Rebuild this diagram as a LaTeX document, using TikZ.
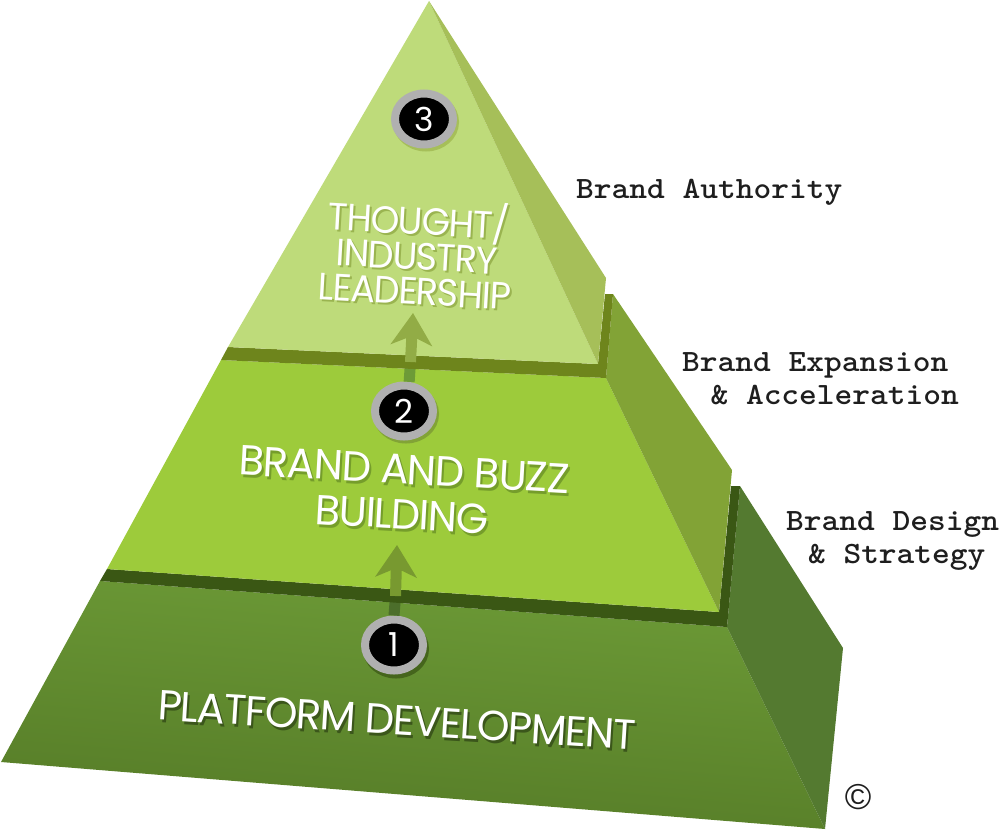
\documentclass[tikz,border=0pt]{standalone}
\usepackage{fontspec}
\newfontfamily\tierfont[LetterSpace=-3]{Poppins}
\newfontfamily\markfont{Liberation Sans}
\usetikzlibrary{arrows.meta,shapes.geometric}
\definecolor{topface}{HTML}{BEDB7A}
\definecolor{topside}{HTML}{A6BF59}
\definecolor{topband}{HTML}{6E851C}
\definecolor{midface}{HTML}{9DCB3B}
\definecolor{midside}{HTML}{82A336}
\definecolor{midband}{HTML}{3A5714}
\definecolor{lowside}{HTML}{547A30}
\definecolor{lowtop}{HTML}{6D9B37}
\definecolor{lowbottom}{HTML}{557B27}
\definecolor{ringgray}{HTML}{B0B0B0}
\definecolor{inktext}{HTML}{1E1E1E}
\tikzset{
  tierlabel/.style={font=\tierfont\fontsize{38}{35}\selectfont, align=center, inner sep=0pt, rotate=-3.2, xscale=0.96},
  widelabel/.style={tierlabel, font=\tierfont\fontsize{42}{45}\selectfont, xscale=1.03},
  badgering/.style={ellipse, draw=ringgray, fill=black, line width=8pt, minimum width=58pt, minimum height=51pt, inner sep=0pt, text=white, font=\tierfont\fontsize{33}{33}\selectfont},
  badgeshade/.style={ellipse, line width=8pt, minimum width=58pt, minimum height=51pt, inner sep=0pt},
  sidelabel/.style={font=\ttfamily\bfseries\fontsize{31}{33}\selectfont, text=inktext, align=left, inner sep=0pt, anchor=west, xscale=1.09},
  riseshaft/.style={line width=11pt},
  risetip/.style={line width=11pt, -{Stealth[length=32pt,width=41pt,inset=9pt]}}
}
\begin{document}
\begin{tikzpicture}[x=1pt,y=-1pt]
  \useasboundingbox (0,0) rectangle (1000,830);

  \path[shade, top color=lowtop, bottom color=lowbottom, shading angle=-5] (100,581) -- (1,762) -- (825,829) -- (727,627) -- cycle;
  \fill[lowside] (727,627) -- (740,486) -- (843,648) -- (825,829) -- cycle;
  \node[badgeshade, fill=midband!60!lowbottom, draw=midband!60!lowbottom] (shade1) at (396,649) {};
  \coordinate (tail2) at (395.5,596);
  \coordinate (tip2) at (397,545);
  \coordinate (tail3) at (410.5,362);
  \coordinate (tip3) at (413,313);
  \node[badgering] (badge1) at (394,645) {1};
  \draw[riseshaft, color=lowside!90!black] (badge1.north) -- (tail2);

  \fill[midband] (107,569) -- (100,581) -- (727,627) -- (740,486) -- (731,486) -- (719,612) -- cycle;
  \fill[midface] (221,360) -- (107,569) -- (719,612) -- (606,378) -- cycle;
  \fill[midside] (606,378) -- (613,294) -- (732,470) -- (719,612) -- cycle;
  \draw[risetip, color=midside!80!midband!90!midface] (tail2) -- (tip2);
  \node[badgeshade, fill=midside, draw=midside] (shade2) at (406,414) {};
  \node[badgering] (badge2) at (404,411) {2};
  \draw[riseshaft, color=lowtop] (badge2.80) -- (tail3);

  \fill[topband] (228,347) -- (221,360) -- (606,378) -- (613,294) -- (605,294) -- (598,364) -- cycle;
  \fill[topface] (429,1) -- (228,347) -- (598,364) -- cycle;
  \fill[topside] (429,1) -- (606,278) -- (598,364) -- cycle;
  \draw[risetip, color=topface!45!topband] (tail3) -- (tip3);
  \node[badgeshade, fill=topside, draw=topside] (shade3) at (426,122) {};
  \node[badgering] (badge3) at (424,119) {3};

  \node[tierlabel, text=topface!55!topband] (thoughtshade) at (419,254) {THOUGHT/\\INDUSTRY\\LEADERSHIP};
  \node[tierlabel, text=white] (thought) at (417,252) {THOUGHT/\\INDUSTRY\\LEADERSHIP};
  \node[widelabel, text=midface!60!midband] (buzzshade) at (405,495) {BRAND AND BUZZ\\BUILDING};
  \node[widelabel, text=white] (buzz) at (403,492) {BRAND AND BUZZ\\BUILDING};
  \node[widelabel, text=lowbottom!70!black, rotate=-0.4] (platformshade) at (399,723) {PLATFORM DEVELOPMENT};
  \node[widelabel, text=white, rotate=-0.4] (platform) at (397,720) {PLATFORM DEVELOPMENT};

  \node[sidelabel] (authority) at (576,192) {Brand Authority};
  \node[sidelabel] (expansion) at (682,379) {Brand Expansion\\\hspace*{26pt}\& Acceleration};
  \node[sidelabel] (design) at (786,541) {Brand Design\\\hspace*{20pt}\& Strategy};
  \node[inner sep=0pt, text=inktext, font=\markfont\fontsize{36}{36}\selectfont] (mark) at (858,797) {\textcopyright};
\end{tikzpicture}
\end{document}
